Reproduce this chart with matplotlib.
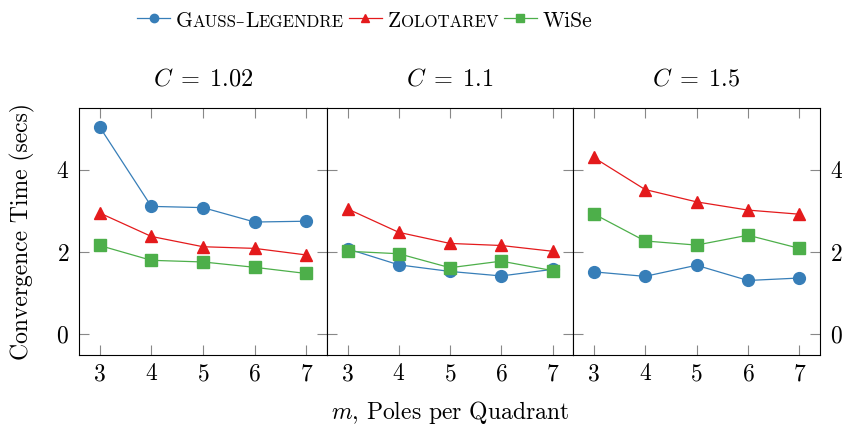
import matplotlib.pyplot as plt
from matplotlib.lines import Line2D
import numpy as np

plt.rcParams['font.family'] = ['cmr10', 'DejaVu Serif']
plt.rcParams['mathtext.fontset'] = 'cm'
plt.rcParams['axes.formatter.use_mathtext'] = True

m = [3, 4, 5, 6, 7]
titles = [r'$C\;=\;1.02$', r'$C\;=\;1.1$', r'$C\;=\;1.5$']

gauss = [[5.04, 3.11, 3.08, 2.73, 2.75],
         [2.08, 1.69, 1.53, 1.42, 1.58],
         [1.52, 1.41, 1.68, 1.31, 1.37]]
zolo = [[2.95, 2.38, 2.13, 2.09, 1.93],
        [3.05, 2.48, 2.21, 2.16, 2.02],
        [4.30, 3.52, 3.22, 3.02, 2.92]]
wise = [[2.16, 1.80, 1.76, 1.63, 1.48],
        [2.02, 1.96, 1.62, 1.78, 1.55],
        [2.93, 2.27, 2.17, 2.41, 2.09]]

blue = '#377eb8'
red = '#e41a1c'
green = '#4daf4a'
fs = 17
lfs = 15.5  # legend

W, H = 842, 430
fig = plt.figure(figsize=(W / 100, H / 100), dpi=100)
lefts = [79, 327, 573]
rights = [327, 573, 820]
axes = []
for i in range(3):
    ax = fig.add_axes([lefts[i] / W, 1 - 355 / H,
                       (rights[i] - lefts[i]) / W, (355 - 108) / H])
    axes.append(ax)
    ax.plot(m, gauss[i], '-o', color=blue, lw=0.9, ms=8.5)
    ax.plot(m, zolo[i], '-^', color=red, lw=0.9, ms=8)
    ax.plot(m, wise[i], '-s', color=green, lw=0.9, ms=8)
    ax.set_xlim(2.6, 7.4)
    ax.set_ylim(-0.5, 5.5)
    ax.set_xticks(m)
    ax.set_yticks([0, 2, 4])
    ax.tick_params(direction='in', top=True, right=True, length=7,
                   color='#888888', labelsize=fs, pad=6)
    ax.tick_params(axis='y', labelleft=(i == 0), labelright=(i == 2), pad=7)
    ax.set_title(titles[i], fontsize=fs + 0.5, pad=16)
    for s in ax.spines.values():
        s.set_linewidth(0.8)

fig.text(22 / W, 1 - 232 / H, 'Convergence Time (secs)', rotation=90,
         ha='center', va='center', fontsize=fs)
fig.text(450 / W, 1 - 413 / H, r'$m$, Poles per Quadrant',
         ha='center', va='center', fontsize=fs)

# legend drawn by hand so the labels can be in small caps
renderer = fig.canvas.get_renderer()
base_y = 1 - 27 / H
line_y = 1 - 18 / H


def put(x, s, size):
    t = fig.text(x / W, base_y, s, fontsize=size, va='baseline', ha='left')
    return t.get_window_extent(renderer).x1


def small_caps(x, word):
    run = ''
    for ch in word:
        if ch.isupper():
            if run:
                x = put(x, run.upper(), lfs * 0.78)
                run = ''
            x = put(x, ch, lfs)
        else:
            run += ch
    if run:
        x = put(x, run.upper(), lfs * 0.78)
    return x


entries = [('Gauss–Legendre', blue, 'o', 6, True),
           ('Zolotarev', red, '^', 6, True),
           ('WiSe', green, 's', 6, False)]
x = 137
for label, col, mk, ms, sc in entries:
    fig.add_artist(Line2D([x / W, (x + 33) / W], [line_y, line_y],
                          color=col, lw=0.9, transform=fig.transFigure))
    fig.add_artist(Line2D([(x + 16.5) / W], [line_y], marker=mk, ms=ms,
                          color=col, transform=fig.transFigure))
    x += 39
    if sc:
        x = small_caps(x, label)
    else:
        x = put(x, label, lfs)
    x += 5

fig.savefig('out.png', dpi=100)
